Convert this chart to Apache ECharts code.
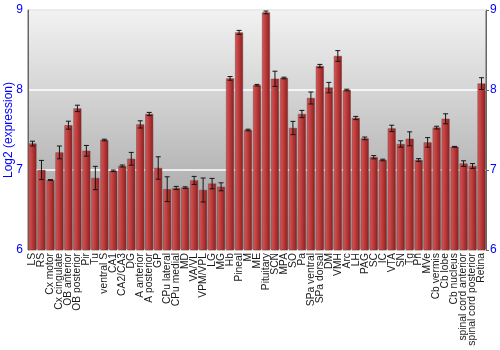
<!DOCTYPE html>
<html><head><meta charset="utf-8">
<script src="https://cdn.jsdelivr.net/npm/echarts@6/dist/echarts.min.js"></script>
<style>html,body{margin:0;padding:0;background:#fff}#c{width:500px;height:350px}</style>
</head><body><div id="c"></div>
<script>
var categories = ["LS","RS","Cx motor","Cx cingulate","OB anterior","OB posterior","Pir","Tu","ventral S","CA1","CA2/CA3","DG","A anterior","A posterior","GP","CPu lateral","CPu medial","MD","VA/VL","VPM/VPL","LG","MG","Hb","Pineal","M","ME","Pituitary","SCN","MPA","SO","Pa","SPa ventral","SPa dorsal","DM","VMH","Arc","LH","PAG","SC","IC","VTA","SN","Tg","Pn","MVe","Cb vermis","Cb lobe","Cb nucleus","spinal cord anterior","spinal cord posterior","Retina"];
var values = [7.33,7.0,6.875,7.22,7.56,7.77,7.24,6.9,7.375,6.99,7.05,7.14,7.57,7.7,7.025,6.76,6.775,6.78,6.87,6.75,6.83,6.79,8.145,8.72,7.5,8.06,8.97,8.14,8.15,7.525,7.7,7.9,8.3,8.03,8.425,8.0,7.65,7.395,7.16,7.125,7.52,7.325,7.39,7.125,7.345,7.53,7.64,7.29,7.08,7.05,8.08];
var errors = [0.03,0.12,0.005,0.08,0.05,0.04,0.067,0.146,0.01,0.01,0.0125,0.08,0.045,0.02,0.14,0.155,0.02,0.01,0.05,0.15,0.065,0.05,0.023,0.025,0.01,0.01,0.017,0.095,0.01,0.083,0.045,0.075,0.02,0.065,0.067,0.01,0.02,0.017,0.02,0.01,0.04,0.04,0.087,0.017,0.06,0.017,0.0625,0.005,0.035,0.03,0.073];
var yTicks = [6,7,8,9];

var chart = echarts.init(document.getElementById('c'));
var errData = values.map(function(v,i){return [i, v-errors[i], v+errors[i]];});
var FF = 'Liberation Sans, Arial, sans-serif';
chart.setOption({
  animation:false,
  grid:{left:28,right:14,top:10,bottom:100,outerBoundsMode:'none',containLabel:false,show:true,borderColor:'#666',borderWidth:1,
    backgroundColor:{type:'linear',x:0,y:0,x2:0,y2:1,colorStops:[{offset:0,color:'#f2f2f2'},{offset:0.35,color:'#d4d4d4'},{offset:1,color:'#999999'}]}},
  xAxis:{type:'category',data:categories,boundaryGap:true,
    axisLine:{show:false},axisTick:{show:false},
    axisLabel:{rotate:90,interval:0,fontSize:10.3,fontFamily:FF,color:'#1a1a1a',margin:3}},
  yAxis:[{type:'value',min:yTicks[0],max:yTicks[yTicks.length-1],interval:1,position:'left',
    name:'Log2 (expression)',nameLocation:'middle',nameGap:13,nameMoveOverlap:false,nameTextStyle:{color:'#0000ff',fontSize:12,fontFamily:FF},
    axisLine:{show:true,lineStyle:{color:'#666'}},axisTick:{show:false},
    axisLabel:{color:'#0000ff',fontSize:12,margin:5,fontFamily:FF},
    splitLine:{show:true,lineStyle:{color:'#ffffff',width:1.5}}},
    {type:'value',min:yTicks[0],max:yTicks[yTicks.length-1],interval:1,position:'right',
    axisLine:{show:true,lineStyle:{color:'#666'}},axisTick:{show:true,length:3,inside:false,lineStyle:{color:'#666'}},
    axisLabel:{color:'#0000ff',fontSize:12,margin:4,fontFamily:FF},
    splitLine:{show:false}}],
  series:[{type:'bar',data:values,barWidth:'88%',
    itemStyle:{color:{type:'linear',x:0,y:0,x2:1,y2:0,colorStops:[{offset:0,color:'#d45858'},{offset:0.45,color:'#bd3c3c'},{offset:1,color:'#8a1e1e'}]},
      borderColor:'#7a3c3c',borderWidth:0.5}},
    {type:'custom',data:errData,z:10,
     renderItem:function(params,api){
       var x=api.value(0);
       var lo=api.coord([x,api.value(1)]);
       var hi=api.coord([x,api.value(2)]);
       var hw=2.5;
       var st={stroke:'#151515',lineWidth:1};
       return {type:'group',children:[
         {type:'line',shape:{x1:lo[0],y1:lo[1],x2:hi[0],y2:hi[1]},style:st},
         {type:'line',shape:{x1:lo[0]-hw,y1:lo[1],x2:lo[0]+hw,y2:lo[1]},style:st},
         {type:'line',shape:{x1:hi[0]-hw,y1:hi[1],x2:hi[0]+hw,y2:hi[1]},style:st}
       ]};
     }}]
});
</script></body></html>
